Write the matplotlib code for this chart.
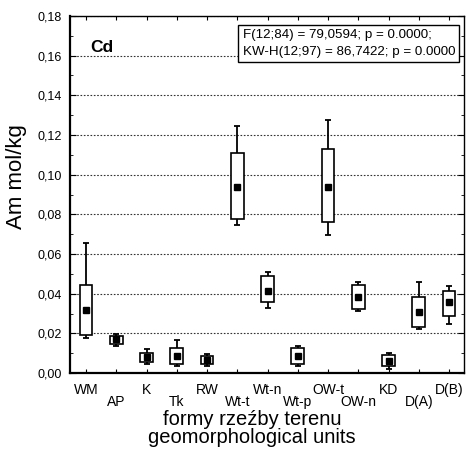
import matplotlib
matplotlib.use("Agg")
import matplotlib.pyplot as plt
from matplotlib.ticker import MultipleLocator, FuncFormatter

# Cd, Am mol/kg per geomorphological unit
UNITS = ["WM", "AP", "K", "Tk", "RW", "Wt-t", "Wt-n", "Wt-p", "OW-t", "OW-n",
         "KD", "D(A)", "D(B)"]
MEAN = [0.0316, 0.0171, 0.0081, 0.0086, 0.0066, 0.0940, 0.0416, 0.0086,
        0.0940, 0.0385, 0.0062, 0.0309, 0.0358]
BOX_LO = [0.0190, 0.0148, 0.0058, 0.0047, 0.0045, 0.0779, 0.0356, 0.0045,
          0.0759, 0.0323, 0.0034, 0.0233, 0.0290]
BOX_HI = [0.0443, 0.0188, 0.0101, 0.0128, 0.0086, 0.1110, 0.0487, 0.0126,
          0.1127, 0.0443, 0.0091, 0.0386, 0.0416]
WHISK_LO = [0.0176, 0.0138, 0.0045, 0.0035, 0.0037, 0.0744, 0.0326, 0.0037,
            0.0697, 0.0313, 0.0023, 0.0222, 0.0248]
WHISK_HI = [0.0658, 0.0197, 0.0121, 0.0168, 0.0096, 0.1247, 0.0509, 0.0139,
            0.1277, 0.0457, 0.0101, 0.0457, 0.0438]

STATS = "F(12;84) = 79,0594; p = 0.0000;\nKW-H(12;97) = 86,7422; p = 0.0000"

plt.rcParams.update({"font.family": ["Liberation Sans", "DejaVu Sans"]})

fig = plt.figure(figsize=(4.67, 4.55), dpi=100)
ax = fig.add_axes([0.150, 0.180, 0.844, 0.785])

x = list(range(len(UNITS)))
ax.vlines(x, WHISK_LO, WHISK_HI, color="black", lw=1.3, zorder=2)
ax.hlines(WHISK_LO + WHISK_HI, [i - 0.1 for i in x] * 2,
          [i + 0.1 for i in x] * 2, color="black", lw=1.3, zorder=2)
ax.bar(x, [h - l for h, l in zip(BOX_HI, BOX_LO)], bottom=BOX_LO, width=0.42,
       facecolor="white", edgecolor="black", lw=1.2, zorder=3)
ax.plot(x, MEAN, ls="none", marker="s", ms=4.6, color="black", zorder=4)

ax.set_xlim(-0.53, 12.5)
ax.set_ylim(0, 0.18)
ax.yaxis.set_major_locator(MultipleLocator(0.02))
ax.yaxis.set_minor_locator(MultipleLocator(0.01))
ax.yaxis.set_major_formatter(FuncFormatter(lambda v, p: f"{v:.2f}".replace(".", ",")))
ax.yaxis.grid(True, ls=(0, (1.5, 1.5)), lw=0.8, color="#333333")
ax.set_axisbelow(True)

ax.set_xticks(x)
ax.set_xticklabels(UNITS, fontsize=10)
ax.tick_params(axis="x", direction="in", length=3, top=True, pad=7)
ax.tick_params(axis="y", which="both", direction="in", right=True,
               labelsize=9, pad=6)
ax.tick_params(axis="y", which="major", length=4)
ax.tick_params(axis="y", which="minor", length=2.5)
for i, t in enumerate(ax.xaxis.get_major_ticks()):
    if i % 2:
        t.set_pad(16)

for s in ax.spines.values():
    s.set_linewidth(1.0)
ax.spines["left"].set_linewidth(1.6)
ax.spines["bottom"].set_linewidth(1.6)

ax.set_ylabel("Am mol/kg", fontsize=16)
ax.yaxis.set_label_coords(-0.11, 0.55)
ax.set_xlabel("formy rzeźby terenu\ngeomorphological units", fontsize=14.5,
              linespacing=0.95)
ax.xaxis.set_label_coords(0.462, -0.103)

ax.text(0.051, 0.9, "Cd", transform=ax.transAxes, fontsize=12.5,
        fontweight="bold")
ax.text(0.977, 0.962, STATS, transform=ax.transAxes, ha="right", va="top",
        multialignment="left", fontsize=9.6, linespacing=1.45,
        bbox=dict(boxstyle="square,pad=0.32", facecolor="white",
                  edgecolor="black", lw=1.0))

fig.savefig("out.png")
